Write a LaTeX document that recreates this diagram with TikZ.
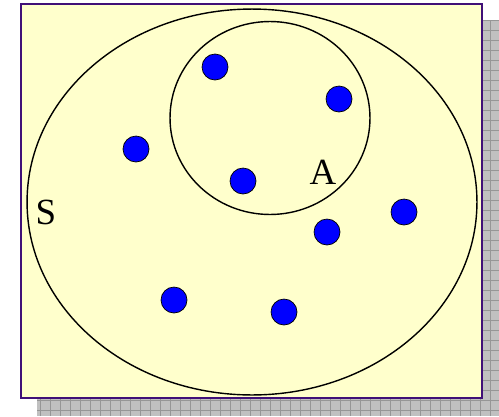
\documentclass[tikz,border=0pt]{standalone}
\usepackage{fontspec}
\setmainfont{Liberation Serif}
\usepackage{xcolor}
\usepackage{tikz}
\usetikzlibrary{shapes.geometric, positioning}
\definecolor{marco}{RGB}{64,16,120}
\definecolor{fondo}{RGB}{255,255,204}
\definecolor{sombra}{RGB}{192,192,192}
\definecolor{rejilla}{RGB}{150,150,150}
\tikzset{
    punto/.style={circle, draw=black, fill=blue, inner sep=0pt, minimum size=0.52cm},
    conjunto/.style={ellipse, draw=black, thick, inner sep=0pt},
    etiqueta/.style={font=\fontsize{21}{24}\selectfont, inner sep=0pt}
}

\begin{document}
\begin{tikzpicture}[x=0.02cm, y=-0.02cm]

    \useasboundingbox (0,0) rectangle (499,416);

    % 1. Sombra con rejilla
    \fill[sombra] (37,20) rectangle (499,416);
    \begin{scope}
        \clip (37,20) rectangle (499,416);
        \draw[rejilla, very thin, step=0.2cm] (37,20) grid (499,416);
    \end{scope}

    % 2. Marco
    \draw[marco, fill=fondo, line width=1.2pt] (21,4) rectangle (482,398);

    % 3. Conjuntos S y A
    \node[conjunto, minimum width=9cm, minimum height=7.72cm] (S) at (252,202) {};
    \node[conjunto, minimum width=4cm, minimum height=3.86cm] (A) at (270,118) {};

    \node[etiqueta] (labS) at (46,212) {S};
    \node[etiqueta] (labA) at (323,172) {A};

    % 4. Puntos
    \node[punto] (p1) at (215,67) {};
    \node[punto] (p2) at (339,99) {};
    \node[punto] (p3) at (136,149) {};
    \node[punto] (p4) at (243,181) {};
    \node[punto] (p5) at (327,232) {};
    \node[punto] (p6) at (404,212) {};
    \node[punto] (p7) at (174,300) {};
    \node[punto] (p8) at (284,312) {};

\end{tikzpicture}
\end{document}
